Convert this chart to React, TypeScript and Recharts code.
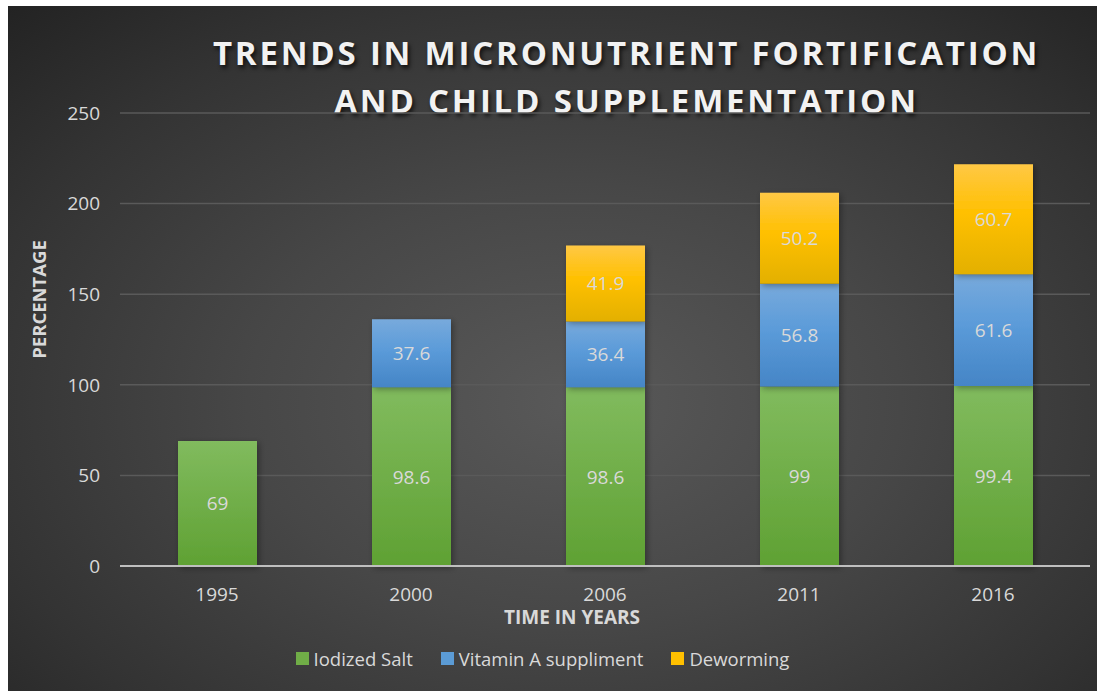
import React from "react";
import { BarChart, Bar, XAxis, YAxis, CartesianGrid, Legend, LabelList, Label } from "recharts";

const years = ["1995", "2000", "2006", "2011", "2016"];
const iodizedSalt = [69, 98.6, 98.6, 99, 99.4];
const vitaminA: (number | null)[] = [null, 37.6, 36.4, 56.8, 61.6];
const deworming: (number | null)[] = [null, null, 41.9, 50.2, 60.7];
const yTicks = [0, 50, 100, 150, 200, 250];

const seriesNames = ["Iodized Salt", "Vitamin A suppliment", "Deworming"];
const seriesSwatch = ["#70ad47", "#5b9bd5", "#ffc000"];

const data = years.map((y, i) => ({
  year: y,
  salt: iodizedSalt[i],
  vita: vitaminA[i],
  deworm: deworming[i],
}));

const FONT = "'Open Sans', 'Noto Sans', sans-serif";
const TXT = "#d9d9d9";

const renderLabel = (props: any) => {
  const { x, y, width, height, value } = props;
  if (value === null || value === undefined) return null;
  return (
    <text
      x={x + width / 2}
      y={y + height / 2}
      fill={TXT}
      fontSize={19}
      fontFamily={FONT}
      textAnchor="middle"
      dominantBaseline="central"
    >
      {value}
    </text>
  );
};

const renderLegend = () => (
  <div
    style={{
      display: "flex",
      justifyContent: "center",
      alignItems: "center",
      gap: 28,
      paddingRight: 20,
      fontFamily: FONT,
      fontSize: 18.5,
      color: TXT,
    }}
  >
    {seriesNames.map((n, i) => (
      <div key={n} style={{ display: "flex", alignItems: "center" }}>
        <span
          style={{
            display: "inline-block",
            width: 13,
            height: 13,
            background: seriesSwatch[i],
            marginRight: 5,
          }}
        />
        <span>{n}</span>
      </div>
    ))}
  </div>
);

const renderYLabel = (props: any) => {
  const vb = props.viewBox;
  const cx = 30;
  const cy = vb.y + vb.height / 2 - 40;
  return (
    <text
      x={cx}
      y={cy}
      transform={`rotate(-90, ${cx}, ${cy})`}
      fill={TXT}
      fontSize={18.5}
      fontWeight={700}
      fontFamily={FONT}
      textAnchor="middle"
      dominantBaseline="central"
    >
      PERCENTAGE
    </text>
  );
};

const renderXLabel = (props: any) => {
  const vb = props.viewBox;
  return (
    <text
      x={vb.x + vb.width / 2 - 33}
      y={vb.y + 51}
      fill={TXT}
      fontSize={19}
      fontWeight={700}
      fontFamily={FONT}
      textAnchor="middle"
      dominantBaseline="central"
    >
      TIME IN YEARS
    </text>
  );
};

export default function App() {
  const W = 1089;
  const H = 685;
  return (
    <div
      style={{
        position: "absolute",
        left: 8,
        top: 6,
        width: W,
        height: H,
        background:
          "radial-gradient(ellipse 75% 80% at 52% 58%, #595959 0%, #474747 40%, #333333 75%, #232323 100%)",
        overflow: "hidden",
      }}
    >
      <div
        style={{
          position: "absolute",
          left: 0,
          width: W,
          top: 23,
          textAlign: "center",
          paddingLeft: 148,
          boxSizing: "border-box",
          color: "#f2f2f2",
          fontFamily: FONT,
          fontWeight: 700,
          fontSize: 33,
          letterSpacing: 2.8,
          lineHeight: "48px",
          textShadow: "2px 3px 4px rgba(0,0,0,0.7)",
        }}
      >
        TRENDS IN MICRONUTRIENT FORTIFICATION
        <br />
        AND CHILD SUPPLEMENTATION
      </div>
      <BarChart
        width={W}
        height={H}
        data={data}
        margin={{ top: 107, right: 7, bottom: 0, left: 0 }}
        style={{ position: "absolute", left: 0, top: 0 }}
      >
        <defs>
          <linearGradient id="gSalt" x1="0" y1="0" x2="0" y2="1">
            <stop offset="0%" stopColor="#81bb5e" />
            <stop offset="100%" stopColor="#5fa133" />
          </linearGradient>
          <linearGradient id="gVit" x1="0" y1="0" x2="0" y2="1">
            <stop offset="0%" stopColor="#78aadc" />
            <stop offset="45%" stopColor="#5b9bd9" />
            <stop offset="100%" stopColor="#4585c6" />
          </linearGradient>
          <linearGradient id="gDew" x1="0" y1="0" x2="0" y2="1">
            <stop offset="0%" stopColor="#ffc845" />
            <stop offset="45%" stopColor="#ffc000" />
            <stop offset="100%" stopColor="#e3b000" />
          </linearGradient>
          <filter id="barShadow" x="-20%" y="-20%" width="140%" height="140%">
            <feDropShadow dx="2" dy="2" stdDeviation="3" floodColor="#000" floodOpacity="0.35" />
          </filter>
        </defs>
        <CartesianGrid vertical={false} stroke="#5a5a5a" strokeWidth={1.5} />
        <XAxis
          dataKey="year"
          axisLine={{ stroke: "#bfbfbf", strokeWidth: 2 }}
          tickLine={false}
          tick={{ fill: TXT, fontSize: 19, fontFamily: FONT }}
          tickMargin={16}
          height={100}
        >
          <Label content={renderXLabel} />
        </XAxis>
        <YAxis
          domain={[0, 250]}
          ticks={yTicks}
          axisLine={false}
          tickLine={false}
          tick={{ fill: TXT, fontSize: 19, fontFamily: FONT }}
          tickMargin={14}
          width={112}
        >
          <Label content={renderYLabel} />
        </YAxis>
        <Legend
          content={renderLegend}
          wrapperStyle={{ position: "absolute", top: 640, left: 0, width: W, bottom: "auto" }}
        />
        <Bar dataKey="salt" name={seriesNames[0]} stackId="a" fill="url(#gSalt)" barSize={79} isAnimationActive={false} style={{ filter: "url(#barShadow)" }}>
          <LabelList dataKey="salt" content={renderLabel} />
        </Bar>
        <Bar dataKey="vita" name={seriesNames[1]} stackId="a" fill="url(#gVit)" barSize={79} isAnimationActive={false} style={{ filter: "url(#barShadow)" }}>
          <LabelList dataKey="vita" content={renderLabel} />
        </Bar>
        <Bar dataKey="deworm" name={seriesNames[2]} stackId="a" fill="url(#gDew)" barSize={79} isAnimationActive={false} style={{ filter: "url(#barShadow)" }}>
          <LabelList dataKey="deworm" content={renderLabel} />
        </Bar>
      </BarChart>
    </div>
  );
}
